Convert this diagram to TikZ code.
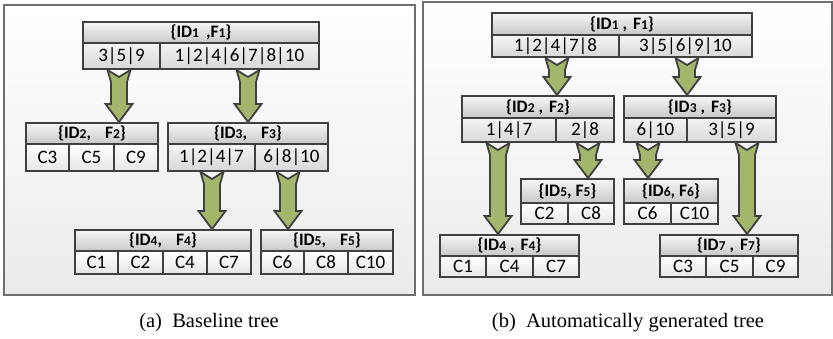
\documentclass[tikz,border=0pt]{standalone}
\usepackage{fontspec}
\setmainfont{Liberation Serif}
\newfontfamily\calib{Carlito}
\usetikzlibrary{calc}
\definecolor{bord}{HTML}{404040}
\definecolor{hdrtop}{HTML}{F6F6F6}
\definecolor{hdrbot}{HTML}{C8C8C8}
\definecolor{rowtop}{HTML}{F4F4F4}
\definecolor{rowbot}{HTML}{D8D8D8}
\definecolor{leaftop}{HTML}{FFFFFF}
\definecolor{leafbot}{HTML}{E6E6E6}
\definecolor{paneltop}{HTML}{FFFFFF}
\definecolor{panelbot}{HTML}{EBEBEB}
\definecolor{panelb}{HTML}{6E6E6E}
\definecolor{arrdark}{HTML}{A2B66C}
\definecolor{arrlight}{HTML}{D0DDAC}
\newcommand\sd[1]{{\fontsize{13.5}{13.5}\selectfont #1}}
\newcommand\cellbox[7]{\node[#2, minimum width={(#4-#3)*1pt}, minimum height={(#6-#5)*1pt}] (#1) at ({(#3+#4)/2},{(#5+#6)/2}) {#7};}
\newcommand\blockarrow[2]{%
  \path[arr] let \p1=(#1), \p2=(#2) in
  (\x1-11.5pt,\y1) -- (\x1,\y1-7pt) -- (\x1+11.5pt,\y1) -- (\x1+8pt,\y1-12pt)
  -- (\x1+8pt,\y2+18pt) -- (\x1+13.5pt,\y2+18pt) -- (\x1,\y2)
  -- (\x1-13.5pt,\y2+18pt) -- (\x1-8pt,\y2+18pt) -- (\x1-8pt,\y1-12pt) -- cycle;}
\tikzset{
  hdr/.style={draw=bord, line width=2pt, top color=hdrtop, bottom color=hdrbot, inner sep=0pt, font=\calib\fontsize{17.5}{20}\selectfont\bfseries},
  introw/.style={draw=bord, line width=2pt, top color=rowtop, bottom color=rowbot, inner sep=0pt, font=\calib\fontsize{19}{22}\selectfont},
  leaf/.style={draw=bord, line width=2pt, top color=leaftop, bottom color=leafbot, inner sep=0pt, font=\calib\fontsize{19}{22}\selectfont},
  panel/.style={draw=panelb, line width=1.5pt, top color=paneltop, bottom color=panelbot, inner sep=0pt},
  arr/.style={draw=bord, line width=1.8pt, left color=arrdark, middle color=arrlight, right color=arrdark, line join=miter},
  captext/.style={font=\fontsize{20.5}{24}\selectfont, inner sep=0pt}
}
\begin{document}
\begin{tikzpicture}[x=1pt,y=-1pt]
\useasboundingbox (0,0) rectangle (833,339);
% panels
\cellbox{PL}{panel}{4}{415}{5}{295}{}
\cellbox{PR}{panel}{423}{832}{2}{295}{}
% ---------- left tree ----------
\cellbox{L1h}{hdr}{83}{319}{22}{43}{\{ID\sd{1}\hspace{7pt},F\sd{1}\}}
\cellbox{L1a}{introw}{83}{160}{43}{69}{3|5|9}
\cellbox{L1b}{introw}{160}{319}{43}{69}{1|2|4|6|7|8|10}
\cellbox{L2h}{hdr}{26}{158}{123}{144}{\{ID\sd{2},\hspace{14pt}F\sd{2}\}}
\cellbox{L2a}{leaf}{26}{69}{144}{171}{C3}
\cellbox{L2b}{leaf}{69}{114}{144}{171}{C5}
\cellbox{L2c}{leaf}{114}{158}{144}{171}{C9}
\cellbox{L3h}{hdr}{168}{328}{123}{144}{\{ID\sd{3},\hspace{14pt}F\sd{3}\}}
\cellbox{L3a}{introw}{168}{255}{144}{171}{1|2|4|7}
\cellbox{L3b}{introw}{255}{328}{144}{171}{6|8|10}
\cellbox{L4h}{hdr}{75}{251}{230}{251}{\{ID\sd{4},\hspace{14pt}F\sd{4}\}}
\cellbox{L4a}{leaf}{75}{118}{251}{274}{C1}
\cellbox{L4b}{leaf}{118}{163}{251}{274}{C2}
\cellbox{L4c}{leaf}{163}{207}{251}{274}{C4}
\cellbox{L4d}{leaf}{207}{251}{251}{274}{C7}
\cellbox{L5h}{hdr}{261}{393}{230}{251}{\{ID\sd{5},\hspace{14pt}F\sd{5}\}}
\cellbox{L5a}{leaf}{261}{304}{251}{274}{C6}
\cellbox{L5b}{leaf}{304}{348}{251}{274}{C8}
\cellbox{L5c}{leaf}{348}{393}{251}{274}{C10}
\blockarrow{119,0 |- L1a.south}{119,0 |- L2h.north}
\blockarrow{248,0 |- L1b.south}{248,0 |- L3h.north}
\blockarrow{212,0 |- L3a.south}{212,0 |- L4h.north}
\blockarrow{288,0 |- L3b.south}{288,0 |- L5h.north}
% ---------- right tree ----------
\cellbox{R1h}{hdr}{492}{752}{13}{35}{\{ID\sd{1} ,\hspace{6pt}F\sd{1}\}}
\cellbox{R1a}{introw}{492}{619}{35}{57}{1|2|4|7|8}
\cellbox{R1b}{introw}{619}{752}{35}{57}{3|5|6|9|10}
\cellbox{R2h}{hdr}{462}{614}{96}{118}{\{ID\sd{2} ,\hspace{6pt}F\sd{2}\}}
\cellbox{R2a}{introw}{462}{556}{118}{142}{1|4|7}
\cellbox{R2b}{introw}{556}{614}{118}{142}{2|8}
\cellbox{R3h}{hdr}{624}{776}{96}{118}{\{ID\sd{3} ,\hspace{6pt}F\sd{3}\}}
\cellbox{R3a}{introw}{624}{687}{118}{142}{6|10}
\cellbox{R3b}{introw}{687}{776}{118}{142}{3|5|9}
\cellbox{R5h}{hdr}{521}{614}{179}{203}{\{ID\sd{5}, F\sd{5}\}}
\cellbox{R5a}{leaf}{521}{568}{203}{224}{C2}
\cellbox{R5b}{leaf}{568}{614}{203}{224}{C8}
\cellbox{R6h}{hdr}{624}{718}{179}{203}{\{ID\sd{6}, F\sd{6}\}}
\cellbox{R6a}{leaf}{624}{671}{203}{224}{C6}
\cellbox{R6b}{leaf}{671}{718}{203}{224}{C10}
\cellbox{R4h}{hdr}{440}{579}{235}{256}{\{ID\sd{4} ,\hspace{6pt}F\sd{4}\}}
\cellbox{R4a}{leaf}{440}{486}{256}{277}{C1}
\cellbox{R4b}{leaf}{486}{533}{256}{277}{C4}
\cellbox{R4c}{leaf}{533}{579}{256}{277}{C7}
\cellbox{R7h}{hdr}{660}{798}{235}{256}{\{ID\sd{7} ,\hspace{6pt}F\sd{7}\}}
\cellbox{R7a}{leaf}{660}{706}{256}{277}{C3}
\cellbox{R7b}{leaf}{706}{753}{256}{277}{C5}
\cellbox{R7c}{leaf}{753}{798}{256}{277}{C9}
\blockarrow{557,0 |- R1a.south}{557,0 |- R2h.north}
\blockarrow{687,0 |- R1b.south}{687,0 |- R3h.north}
\blockarrow{498,0 |- R2a.south}{498,0 |- R4h.north}
\blockarrow{588,0 |- R2b.south}{588,0 |- R5h.north}
\blockarrow{648,0 |- R3a.south}{648,0 |- R6h.north}
\blockarrow{747,0 |- R3b.south}{747,0 |- R7h.north}
% captions
\node[captext] (capA) at (209,323) {(a)\hspace{0.5em}Baseline tree};
\node[captext] (capB) at (628,323) {(b)\hspace{0.5em}Automatically generated tree};
\end{tikzpicture}
\end{document}
